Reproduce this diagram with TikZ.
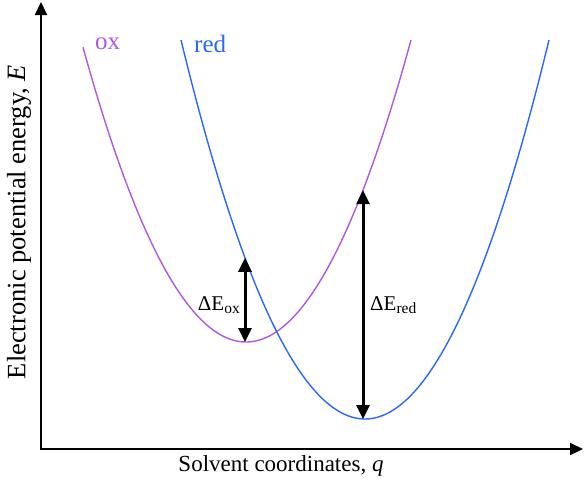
\documentclass[tikz,border=0pt]{standalone}
\usepackage{fontspec}
\setmainfont{Liberation Serif}
\usetikzlibrary{arrows.meta, positioning}

\definecolor{oxcol}{RGB}{176,88,226}
\definecolor{redcol}{RGB}{40,104,255}

\tikzset{
  axis/.style={line width=2.2pt, {Triangle[length=13pt, width=12pt]}-{Triangle[length=13pt, width=12pt]}},
  curve/.style={line width=1.4pt},
  dEarrow/.style={line width=3pt, {Triangle[length=14pt, width=13pt]}-{Triangle[length=14pt, width=13pt]}},
  lbl/.style={font=\fontsize{21}{24}\selectfont, inner sep=0pt},
  curvelbl/.style={font=\fontsize{25}{28}\selectfont, inner sep=0pt, anchor=west},
}
\newcommand{\subtxt}[1]{\raisebox{-2.5pt}{\fontsize{15.5}{15}\selectfont #1}}

\begin{document}
\begin{tikzpicture}[x=1pt, y=-1pt]
  \useasboundingbox (0,0) rectangle (584,479);
  % axes
  \coordinate (O) at (41,449);
  \coordinate (ytop) at (41,2);
  \coordinate (xend) at (583,449);
  \draw[axis] (ytop) -- (O) -- (xend);
  \node[lbl, font=\fontsize{23}{26}\selectfont] (xlabel) at (281,466) {Solvent coordinates, \textit{q}};
  \node[lbl, font=\fontsize{26.5}{28}\selectfont, rotate=90] (ylabel) at (19,222) {Electronic potential energy, \textit{E}};
  % ox curve
  \draw[oxcol, curve] plot[domain=83:411, samples=120] (\x, {342-302*((\x-246)/165)^2});
  \node[curvelbl, text=oxcol] (oxlabel) at (95,44) {ox};
  % red curve
  \draw[redcol, curve] plot[domain=181:549, samples=120] (\x, {419-379*((\x-365)/184)^2});
  \node[curvelbl, text=redcol] (redlabel) at (194,44) {red};
  % energy gaps
  \coordinate (oxmin) at (245,342);
  \coordinate (oxtop) at (245,{419-379*((245-365)/184)^2});
  \coordinate (redmin) at (363,419);
  \coordinate (redtop) at (363,{342-302*((363-246)/165)^2});
  \draw[dEarrow] (oxtop) -- (oxmin);
  \draw[dEarrow] (redtop) -- (redmin);
  \node[lbl, anchor=east] (dEox) at (240,305) {ΔE\subtxt{ox}};
  \node[lbl, anchor=west] (dEred) at (370,305) {ΔE\subtxt{red}};
\end{tikzpicture}
\end{document}
